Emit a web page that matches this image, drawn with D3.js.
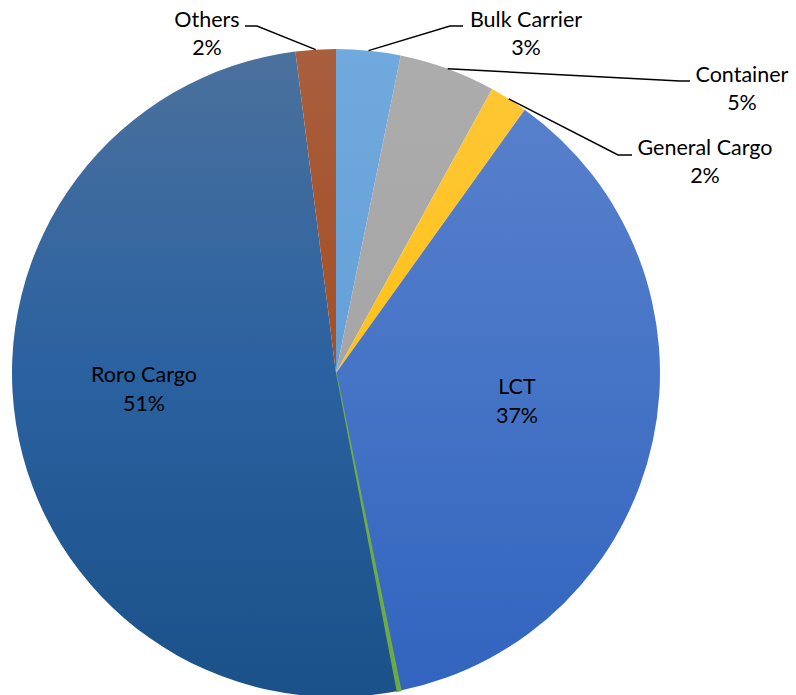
<!DOCTYPE html>
<html>
<head>
<meta charset="utf-8">
<script src="https://cdn.jsdelivr.net/npm/d3@7"></script>
<style>
  body { margin: 0; background: #fff; }
  text { font-family: Lato, "Open Sans", sans-serif; font-size: 21.5px; fill: #000; }
</style>
</head>
<body>
<div id="chart"></div>
<script>
var categories = ['Bulk Carrier', 'Container', 'General Cargo', 'LCT', 'Other Type', 'Roro Cargo', 'Others']
var values = [3.2, 4.8, 1.9, 36.9, 0.2, 51.0, 2.0]
var pctLabels = ['3%', '5%', '2%', '37%', '', '51%', '2%']

// top / mid / bottom colours for each slice's vertical gradient
var colorsTop = ['#70a9dd', '#acacac', '#ffc73a', '#5b83cd', '#74b04b', '#4b719d', '#a95e3e']
var colorsMid = ['#64a0d8', '#a6a6a6', '#ffc217', '#4674c6', '#70ad47', '#2a61a0', '#a34f24']
var colorsBot = ['#5898d3', '#a1a1a1', '#ffbf00', '#3164bf', '#6aa840', '#1a5188', '#9e480e']

var width = 796, height = 695
var cx = 336, cy = 373, r = 324

var svg = d3.select('#chart').append('svg')
  .attr('width', width).attr('height', height)

var defs = svg.append('defs')
categories.forEach(function(c, i){
  var g = defs.append('linearGradient')
    .attr('id', 'grad' + i)
    .attr('gradientUnits', 'userSpaceOnUse')
    .attr('x1', 0).attr('y1', -r).attr('x2', 0).attr('y2', r)
  g.append('stop').attr('offset', 0).attr('stop-color', colorsTop[i])
  g.append('stop').attr('offset', 0.5).attr('stop-color', colorsMid[i])
  g.append('stop').attr('offset', 1).attr('stop-color', colorsBot[i])
})

var data = categories.map(function(c, i){ return {name: c, value: values[i], pct: pctLabels[i], i: i} })

var pie = d3.pie().sort(null).value(d => d.value)
var arcs = pie(data)
var arc = d3.arc().innerRadius(0).outerRadius(r)

var g = svg.append('g').attr('transform', 'translate(' + cx + ',' + cy + ')')

g.selectAll('path.slice').data(arcs).enter().append('path')
  .attr('class', 'slice')
  .attr('d', arc)
  .attr('fill', d => 'url(#grad' + d.data.i + ')')
  .attr('stroke', d => d.data.i == 4 ? colorsMid[4] : 'none')
  .attr('stroke-width', 1.5)

// labels outside with leader lines (elbow + label anchor in page coords)
var outside = {
  'Bulk Carrier': {elbow: [450, 26], end: [463, 26], x: 526, y: 27},
  'Container': {elbow: [680, 81], end: [690, 81], x: 742, y: 82},
  'General Cargo': {elbow: [618, 155], end: [632, 155], x: 705, y: 155},
  'Others': {elbow: [257, 26], end: [245, 26], x: 207, y: 27}
}
var inside = {
  'LCT': {x: 517, y: 394},
  'Roro Cargo': {x: 144, y: 382}
}

arcs.forEach(function(a){
  var name = a.data.name
  var mid = (a.startAngle + a.endAngle) / 2
  var o = outside[name]
  if (o) {
    var sx = cx + Math.sin(mid) * r, sy = cy - Math.cos(mid) * r
    svg.append('polyline')
      .attr('points', [[sx, sy], o.elbow, o.end].map(p => p.join(',')).join(' '))
      .attr('fill', 'none').attr('stroke', '#000').attr('stroke-width', 1.5)
    var t = svg.append('text').attr('text-anchor', 'middle')
    t.append('tspan').attr('x', o.x).attr('y', o.y).text(name)
    t.append('tspan').attr('x', o.x).attr('y', o.y + 28).text(a.data.pct)
  }
  var p = inside[name]
  if (p) {
    var t2 = svg.append('text').attr('text-anchor', 'middle')
    t2.append('tspan').attr('x', p.x).attr('y', p.y).text(name)
    t2.append('tspan').attr('x', p.x).attr('y', p.y + 29).text(a.data.pct)
  }
})
</script>
</body>
</html>
